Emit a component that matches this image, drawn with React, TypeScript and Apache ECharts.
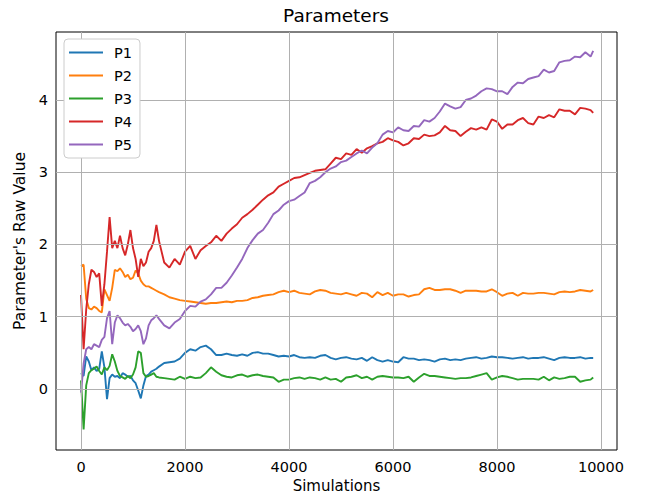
import React, { useEffect, useRef } from "react";
import * as echarts from "echarts";

const TITLE = "Parameters";
const X_NAME = "Simulations";
const Y_NAME = "Parameter's Raw Value";
const X_TICKS = [0, 2000, 4000, 6000, 8000, 10000];
const Y_TICKS = [0, 1, 2, 3, 4];
const SERIES_NAMES = ["P1", "P2", "P3", "P4", "P5"];
const COLORS = ["#1f77b4", "#ff7f0e", "#2ca02c", "#d62728", "#9467bd"];

const SIMS = [
  0, 50, 100, 150, 200, 250, 300, 350, 400, 450, 500, 550, 600, 650, 700, 750,
  800, 850, 900, 950, 1000, 1050, 1100, 1150, 1200, 1250, 1300, 1350, 1400, 1450, 1500,
  1600, 1700, 1800, 1900, 2000, 2100, 2200, 2300, 2400, 2500, 2600, 2700, 2800, 2900,
  3000, 3100, 3200, 3300, 3400, 3500, 3600, 3700, 3800, 3900, 4000, 4100, 4200, 4300,
  4400, 4500, 4600, 4700, 4800, 4900, 5000, 5100, 5200, 5300, 5400, 5500, 5600, 5700,
  5800, 5900, 6000, 6100, 6200, 6300, 6400, 6500, 6600, 6700, 6800, 6900, 7000, 7100,
  7200, 7300, 7400, 7500, 7600, 7700, 7800, 7900, 8000, 8100, 8200, 8300, 8400, 8500,
  8600, 8700, 8800, 8900, 9000, 9100, 9200, 9300, 9400, 9500, 9600, 9700, 9800, 9850,
];

const P1 = [
  0.22, 0.18, 0.45, 0.38, 0.26, 0.30, 0.25, 0.28, 0.52, 0.30, -0.14, 0.15, 0.20, 0.17, 0.18, 0.15,
  0.22, 0.20, 0.17, 0.18, 0.12, 0.08, -0.02, -0.13, 0.05, 0.18, 0.20, 0.24, 0.26, 0.28, 0.31,
  0.36, 0.37, 0.38, 0.42, 0.50, 0.55, 0.53, 0.58, 0.60, 0.55, 0.47, 0.47, 0.49, 0.47,
  0.46, 0.48, 0.46, 0.50, 0.51, 0.49, 0.49, 0.47, 0.45, 0.46, 0.45, 0.47, 0.44, 0.43,
  0.44, 0.43, 0.46, 0.47, 0.43, 0.41, 0.43, 0.44, 0.42, 0.41, 0.43, 0.39, 0.44, 0.40,
  0.38, 0.40, 0.38, 0.37, 0.44, 0.42, 0.42, 0.40, 0.41, 0.40, 0.38, 0.41, 0.42, 0.40,
  0.41, 0.40, 0.42, 0.43, 0.44, 0.42, 0.43, 0.45, 0.44, 0.44, 0.43, 0.42, 0.43, 0.44,
  0.42, 0.43, 0.43, 0.44, 0.42, 0.40, 0.43, 0.44, 0.43, 0.43, 0.44, 0.42, 0.43, 0.43,
];

const P2 = [
  1.70, 1.72, 1.25, 1.12, 1.10, 1.14, 1.12, 1.08, 1.06, 1.38, 1.30, 1.22, 1.40, 1.65, 1.63, 1.67,
  1.62, 1.55, 1.58, 1.52, 1.54, 1.64, 1.60, 1.50, 1.45, 1.42, 1.42, 1.40, 1.38, 1.36, 1.34,
  1.31, 1.27, 1.25, 1.23, 1.22, 1.21, 1.20, 1.19, 1.18, 1.19, 1.19, 1.20, 1.21, 1.20,
  1.22, 1.22, 1.23, 1.26, 1.27, 1.29, 1.30, 1.31, 1.34, 1.36, 1.34, 1.36, 1.33, 1.32,
  1.31, 1.35, 1.37, 1.36, 1.33, 1.32, 1.31, 1.33, 1.31, 1.29, 1.33, 1.32, 1.27, 1.34,
  1.30, 1.33, 1.29, 1.31, 1.31, 1.28, 1.30, 1.31, 1.38, 1.40, 1.37, 1.37, 1.38, 1.38,
  1.36, 1.33, 1.36, 1.36, 1.36, 1.35, 1.35, 1.38, 1.34, 1.29, 1.32, 1.33, 1.29, 1.33,
  1.32, 1.32, 1.33, 1.33, 1.32, 1.31, 1.34, 1.35, 1.34, 1.35, 1.37, 1.36, 1.35, 1.37,
];

const P3 = [
  0.12, -0.56, 0.05, 0.22, 0.26, 0.28, 0.31, 0.25, 0.20, 0.30, 0.26, 0.32, 0.48, 0.38, 0.25, 0.18,
  0.16, 0.14, 0.18, 0.15, 0.20, 0.30, 0.52, 0.50, 0.22, 0.17, 0.18, 0.20, 0.22, 0.17, 0.16,
  0.15, 0.14, 0.13, 0.17, 0.14, 0.17, 0.15, 0.16, 0.22, 0.30, 0.24, 0.19, 0.17, 0.16,
  0.19, 0.20, 0.17, 0.19, 0.20, 0.18, 0.17, 0.16, 0.10, 0.13, 0.13, 0.15, 0.16, 0.14,
  0.16, 0.15, 0.13, 0.16, 0.13, 0.14, 0.10, 0.16, 0.17, 0.19, 0.15, 0.17, 0.13, 0.17,
  0.18, 0.17, 0.16, 0.16, 0.15, 0.17, 0.10, 0.16, 0.21, 0.18, 0.18, 0.17, 0.16, 0.15,
  0.14, 0.15, 0.15, 0.16, 0.18, 0.20, 0.22, 0.13, 0.16, 0.18, 0.17, 0.15, 0.13, 0.14,
  0.14, 0.14, 0.13, 0.17, 0.12, 0.16, 0.14, 0.15, 0.17, 0.17, 0.10, 0.12, 0.13, 0.16,
];

const P4 = [
  1.30, 0.55, 1.10, 1.45, 1.65, 1.62, 1.55, 1.60, 1.15, 1.45, 1.90, 2.38, 1.95, 2.05, 1.95, 2.12,
  1.95, 1.85, 2.00, 2.20, 1.95, 1.80, 1.55, 1.80, 1.70, 1.75, 1.90, 1.95, 2.05, 2.27, 2.05,
  1.75, 1.68, 1.80, 1.72, 1.90, 1.98, 1.80, 1.92, 1.98, 2.03, 2.12, 2.05, 2.15, 2.22,
  2.28, 2.37, 2.42, 2.48, 2.55, 2.62, 2.68, 2.72, 2.80, 2.84, 2.88, 2.92, 2.93, 2.96,
  2.99, 3.02, 3.03, 3.04, 3.12, 3.20, 3.18, 3.26, 3.24, 3.32, 3.27, 3.33, 3.36, 3.40,
  3.42, 3.47, 3.44, 3.42, 3.37, 3.40, 3.47, 3.46, 3.52, 3.50, 3.51, 3.55, 3.64, 3.58,
  3.57, 3.50, 3.56, 3.61, 3.59, 3.62, 3.59, 3.73, 3.70, 3.60, 3.66, 3.66, 3.72, 3.75,
  3.68, 3.66, 3.77, 3.75, 3.79, 3.76, 3.87, 3.85, 3.85, 3.80, 3.89, 3.88, 3.86, 3.82,
];

const P5 = [
  -0.05, 0.35, 0.55, 0.58, 0.55, 0.62, 0.60, 0.58, 0.68, 0.72, 0.98, 1.08, 0.62, 0.92, 1.02, 0.98,
  0.92, 0.88, 0.90, 0.86, 0.80, 0.83, 0.88, 0.80, 0.62, 0.70, 0.88, 0.95, 0.98, 1.02, 0.97,
  0.88, 0.84, 0.92, 0.97, 1.08, 1.15, 1.14, 1.21, 1.24, 1.31, 1.40, 1.40, 1.47, 1.57,
  1.68, 1.80, 1.95, 2.06, 2.15, 2.20, 2.30, 2.42, 2.47, 2.55, 2.60, 2.62, 2.67, 2.72,
  2.85, 2.88, 2.93, 3.00, 3.05, 3.08, 3.14, 3.16, 3.21, 3.26, 3.30, 3.26, 3.34, 3.40,
  3.52, 3.57, 3.55, 3.62, 3.58, 3.57, 3.64, 3.63, 3.72, 3.70, 3.75, 3.84, 3.95, 3.91,
  3.88, 3.90, 4.00, 4.02, 4.06, 4.12, 4.16, 4.15, 4.12, 4.12, 4.08, 4.18, 4.24, 4.23,
  4.29, 4.31, 4.33, 4.42, 4.38, 4.40, 4.52, 4.54, 4.55, 4.60, 4.59, 4.66, 4.60, 4.68,
];

const SERIES_VALUES = [P1, P2, P3, P4, P5];

const FONT = "DejaVu Sans";

export default function App() {
  const ref = useRef<HTMLDivElement>(null);

  useEffect(() => {
    if (!ref.current) return;
    const chart = echarts.init(ref.current, null, { renderer: "svg" });

    const lineSeries = SERIES_NAMES.map((name, i) => ({
      name,
      type: "line",
      data: SIMS.map((x, k) => [x, SERIES_VALUES[i][k]]),
      showSymbol: false,
      symbol: "none",
      lineStyle: { color: COLORS[i], width: 1.9 },
      itemStyle: { color: COLORS[i] },
      emphasis: { disabled: true },
      z: 3,
    }));

    const gridSeries = {
      name: "_grid",
      type: "line",
      data: [[X_TICKS[0], Y_TICKS[0]]],
      symbol: "none",
      showSymbol: false,
      lineStyle: { width: 0, opacity: 0 },
      silent: true,
      z: 1,
      markLine: {
        silent: true,
        symbol: ["none", "none"],
        label: { show: false },
        emphasis: { disabled: true },
        lineStyle: { color: "#b0b0b0", width: 1, type: "solid" },
        data: [
          ...X_TICKS.map((v) => ({ xAxis: v })),
          ...Y_TICKS.map((v) => ({ yAxis: v })),
        ],
      },
    };

    chart.setOption({
      animation: false,
      title: {
        text: TITLE,
        left: 336,
        top: 6,
        textAlign: "center",
        padding: 0,
        textStyle: { fontFamily: FONT, fontSize: 18.5, fontWeight: "normal", color: "#000" },
      },
      legend: {
        data: SERIES_NAMES.map((n) => ({ name: n, icon: "rect" })),
        orient: "vertical",
        left: 64,
        top: 39,
        z: 10,
        itemWidth: 34,
        itemHeight: 2,
        itemGap: 8,
        padding: [6, 8, 6, 5],
        backgroundColor: "#ffffff",
        borderColor: "#cccccc",
        borderWidth: 1,
        borderRadius: 4,
        textStyle: {
          fontFamily: FONT,
          fontSize: 14.5,
          lineHeight: 14,
          color: "#000",
          padding: [0, 0, 0, 6],
        },
      },
      grid: {
        left: 56,
        right: 32,
        top: 32,
        bottom: 45,
        outerBoundsMode: "none",
        containLabel: false,
        show: true,
        borderColor: "#000",
        borderWidth: 1,
        backgroundColor: "transparent",
      },
      xAxis: {
        type: "value",
        min: -481,
        max: 10308,
        name: X_NAME,
        nameLocation: "middle",
        nameGap: 28,
        nameTextStyle: { fontFamily: FONT, fontSize: 15, lineHeight: 15, color: "#000" },
        axisLine: { show: false },
        splitLine: { show: false },
        axisTick: {
          show: true,
          inside: false,
          length: 4,
          lineStyle: { color: "#000" },
          customValues: X_TICKS,
        },
        axisLabel: {
          fontFamily: FONT,
          fontSize: 14.5,
          color: "#000",
          margin: 9,
          customValues: X_TICKS,
          formatter: (v: number) => String(v),
        },
      },
      yAxis: {
        type: "value",
        min: -0.844,
        max: 4.94,
        name: Y_NAME,
        nameLocation: "middle",
        nameGap: 27,
        nameRotate: 90,
        nameTextStyle: { fontFamily: FONT, fontSize: 15.5, color: "#000" },
        axisLine: { show: false },
        splitLine: { show: false },
        axisTick: {
          show: true,
          inside: false,
          length: 4,
          lineStyle: { color: "#000" },
          customValues: Y_TICKS,
        },
        axisLabel: {
          fontFamily: FONT,
          fontSize: 14.5,
          color: "#000",
          margin: 8,
          customValues: Y_TICKS,
          formatter: (v: number) => String(v),
        },
      },
      series: [gridSeries, ...lineSeries],
    });

    return () => chart.dispose();
  }, []);

  return (
    <div
      ref={ref}
      style={{ position: "absolute", left: 0, top: 0, width: 649, height: 495, background: "#fff" }}
    />
  );
}
